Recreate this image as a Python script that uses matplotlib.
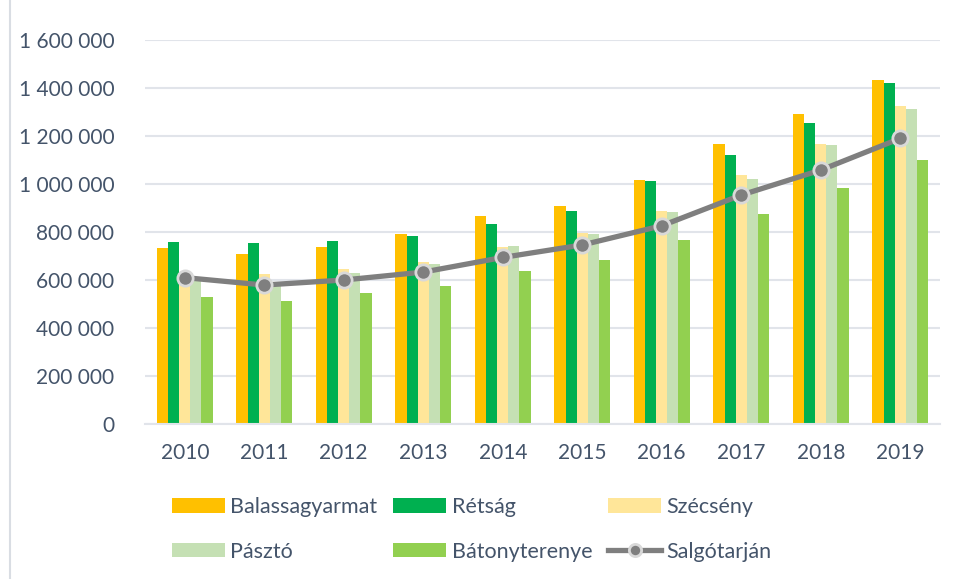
import matplotlib.pyplot as plt
import numpy as np
from matplotlib.ticker import FuncFormatter
from matplotlib.lines import Line2D

years = ['2010', '2011', '2012', '2013', '2014', '2015', '2016', '2017', '2018', '2019']

balassagyarmat = [734000, 708000, 739000, 792000, 866000, 910000, 1017000, 1165000, 1292000, 1432000]
retsag = [758000, 755000, 762000, 783000, 832000, 887000, 1012000, 1121000, 1253000, 1421000]
szecseny = [622000, 625000, 646000, 675000, 739000, 794000, 887000, 1036000, 1167000, 1326000]
paszto = [605000, 588000, 628000, 667000, 743000, 792000, 882000, 1022000, 1161000, 1312000]
batonyterenye = [530000, 511000, 546000, 576000, 637000, 682000, 767000, 875000, 982000, 1100000]
salgotarjan = [610000, 579000, 600000, 633000, 694000, 746000, 826000, 954000, 1058000, 1190000]

bar_series = [
    ('Balassagyarmat', balassagyarmat, '#FFC000'),
    ('Rétság', retsag, '#00B050'),
    ('Szécsény', szecseny, '#FFE699'),
    ('Pásztó', paszto, '#C5E0B4'),
    ('Bátonyterenye', batonyterenye, '#92D050'),
]

text_color = '#44546A'
plt.rcParams['font.family'] = ['Lato', 'DejaVu Sans']

fig = plt.figure(figsize=(9.57, 5.79), dpi=100)
ax = fig.add_axes([145 / 957, 1 - 424 / 579, (940 - 145) / 957, (424 - 40) / 579])

x = np.arange(len(years))
w = 0.14
handles = {}
for i, (name, vals, col) in enumerate(bar_series):
    b = ax.bar(x + (i - 2) * w, vals, width=w, color=col, label=name, zorder=2)
    handles[name] = b

line, = ax.plot(x, salgotarjan, color='#7F7F7F', lw=3.8, marker='o', markersize=11,
                markerfacecolor='#7F7F7F', markeredgecolor='#D9D9D9', markeredgewidth=2,
                zorder=3, label='Salgótarján')
handles['Salgótarján'] = line

ax.set_xlim(-0.5, len(years) - 0.5)
ax.set_ylim(0, 1600000)
ax.set_yticks(np.arange(0, 1600001, 200000))
ax.yaxis.set_major_formatter(FuncFormatter(lambda v, p: f'{int(v):,}'.replace(',', ' ')))
ax.set_xticks(x)
ax.set_xticklabels(years)
ax.tick_params(axis='both', length=0, labelsize=15, colors=text_color)
ax.tick_params(axis='y', pad=22)
ax.tick_params(axis='x', pad=14)

ax.grid(axis='y', color='#E1E4EA', lw=1.5, zorder=0)
for s in ['top', 'right', 'left']:
    ax.spines[s].set_visible(False)
ax.spines['bottom'].set_color('#E1E4EA')
ax.spines['bottom'].set_linewidth(1.5)

# legend fills by column, so reorder
order = ['Balassagyarmat', 'Pásztó', 'Rétság', 'Bátonyterenye', 'Szécsény', 'Salgótarján']
leg = fig.legend([handles[n] for n in order], order, ncol=3, frameon=False,
                 loc='upper left', bbox_to_anchor=(172 / 957, 1 - 497 / 579),
                 fontsize=15.5, handlelength=2.45, handleheight=0.65, handletextpad=0.25,
                 columnspacing=0.75, labelspacing=1.15, borderpad=0, borderaxespad=0,
                 markerscale=0.8)
for t in leg.get_texts():
    t.set_color(text_color)

# thin frame line on the left edge
fig.add_artist(Line2D([10 / 957, 10 / 957], [0, 1], color='#D9DDE3', lw=1.5))

fig.savefig('out.png', dpi=100)
